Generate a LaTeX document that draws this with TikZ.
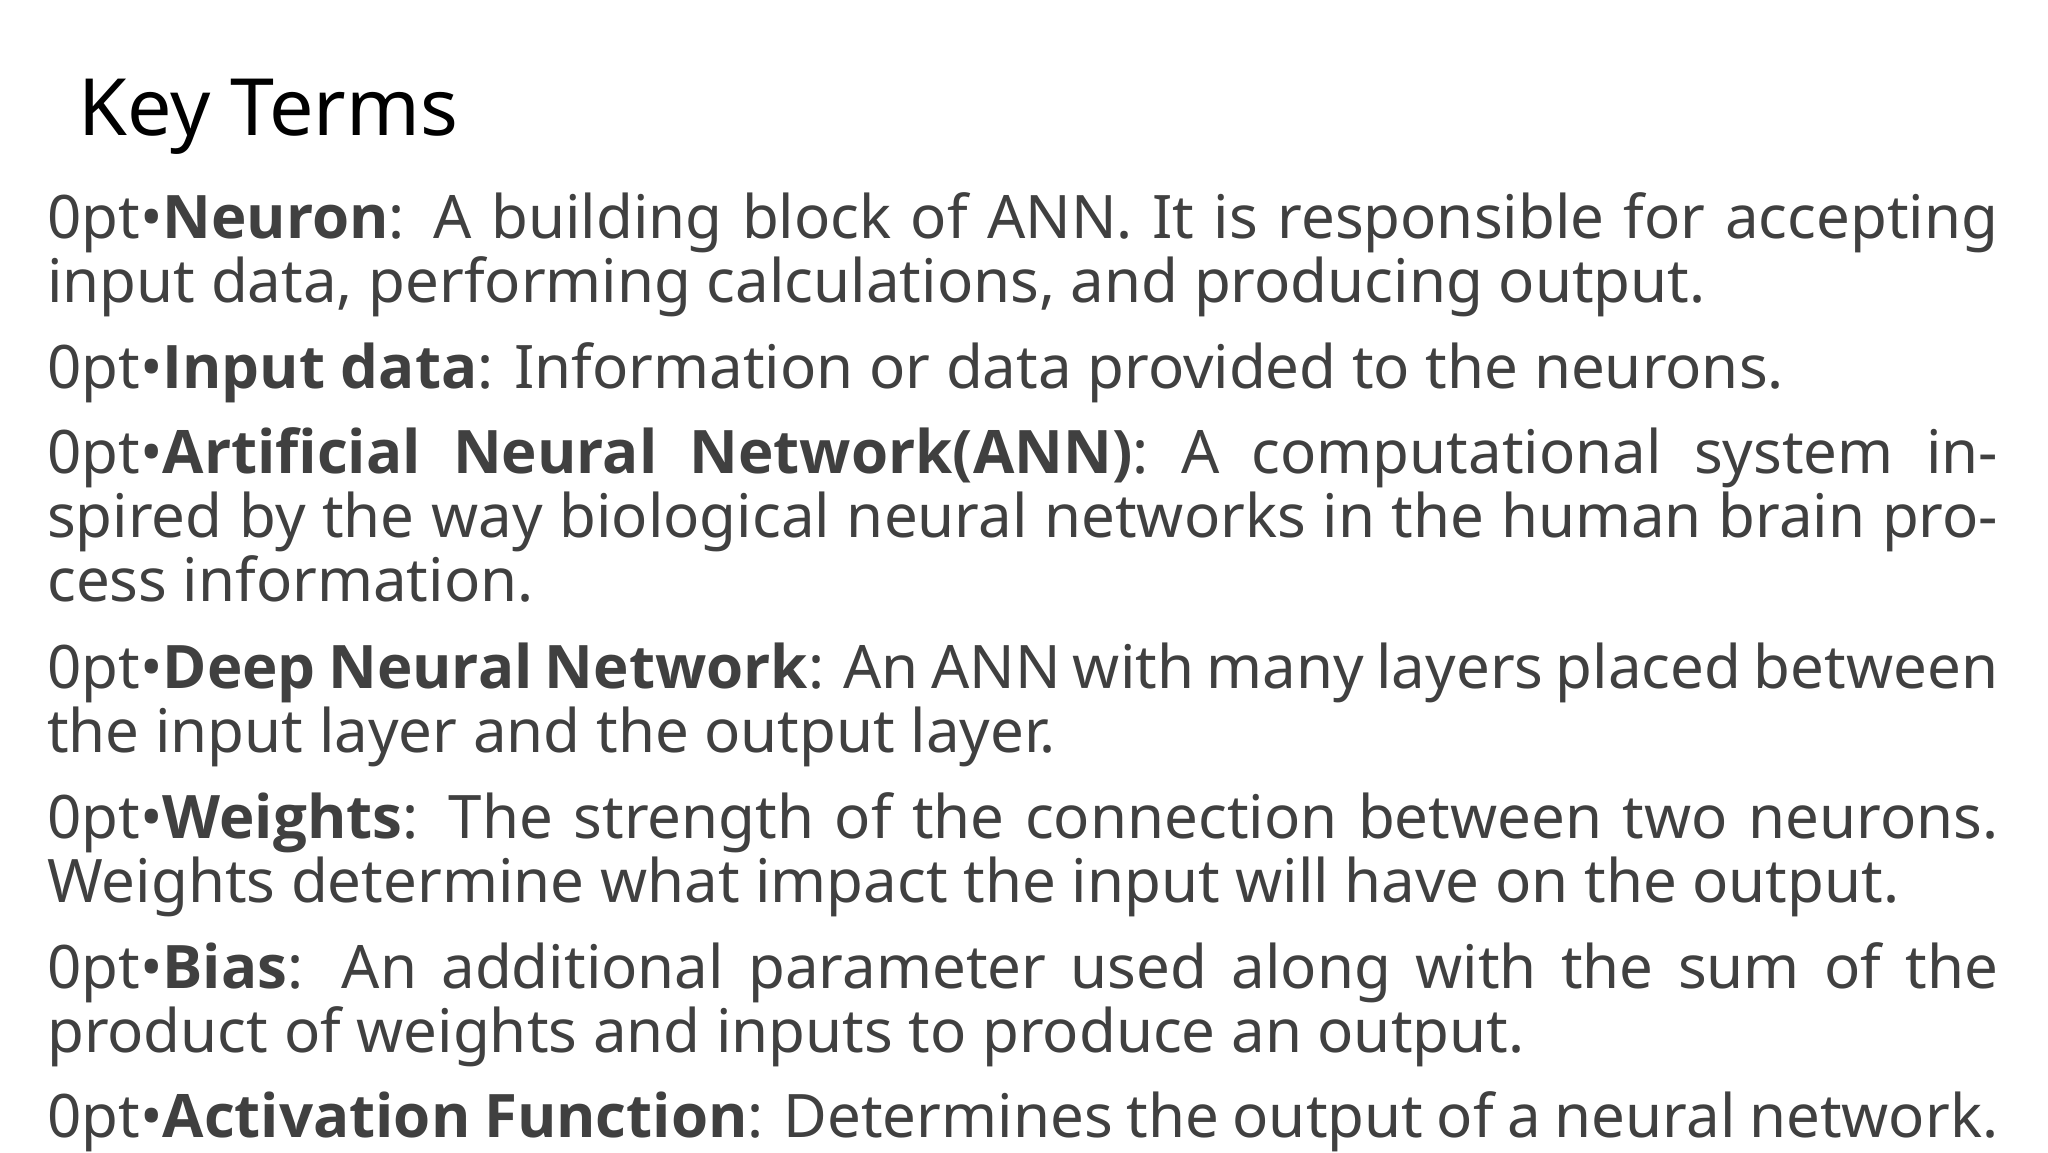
\documentclass[tikz,border=0pt]{standalone}
\usepackage{fontspec}
\setmainfont{Noto Sans}
\newfontfamily\boldopen{Open Sans}
\newcommand{\kterm}[1]{{\boldopen\bfseries #1}}
\definecolor{body}{HTML}{404040}
\begin{document}
\begin{tikzpicture}[x=1pt,y=-1pt,
  para/.style={anchor=north west,inner sep=0pt,text width=1951pt,align=justify,text=body,
    font=\fontsize{60}{64}\selectfont\hyphenpenalty=10000\exhyphenpenalty=10000}]
\useasboundingbox (0,0) rectangle (2048,1152);
\node[anchor=base west,inner sep=0pt,font=\fontsize{79}{90}\selectfont] (title) at (78,135) {Key Terms};
\node[para] (p1) at (47,168) {\rule{0pt}{70pt}•\kterm{Neuron}: A building block of ANN. It is responsible for accepting input data, performing calculations, and producing output.};
\node[para] (p2) at (47,318) {\rule{0pt}{70pt}•\kterm{Input data}: Information or data provided to the neurons.};
\node[para] (p3) at (47,403) {\rule{0pt}{70pt}•\kterm{Artificial Neural Network(ANN)}: A computational system inspired by the way biological neural networks in the human brain process information.};
\node[para] (p4) at (47,618) {\rule{0pt}{70pt}•\kterm{Deep Neural Network}: An ANN with many layers placed between the input layer and the output layer.};
\node[para] (p5) at (47,768) {\rule{0pt}{70pt}•\kterm{Weights}: The strength of the connection between two neurons. Weights determine what impact the input will have on the output.};
\node[para] (p6) at (47,918) {\rule{0pt}{70pt}•\kterm{Bias}: An additional parameter used along with the sum of the product of weights and inputs to produce an output.};
\node[para] (p7) at (47,1067) {\rule{0pt}{70pt}•\kterm{Activation Function}: Determines the output of a neural network.};
\end{tikzpicture}
\end{document}
